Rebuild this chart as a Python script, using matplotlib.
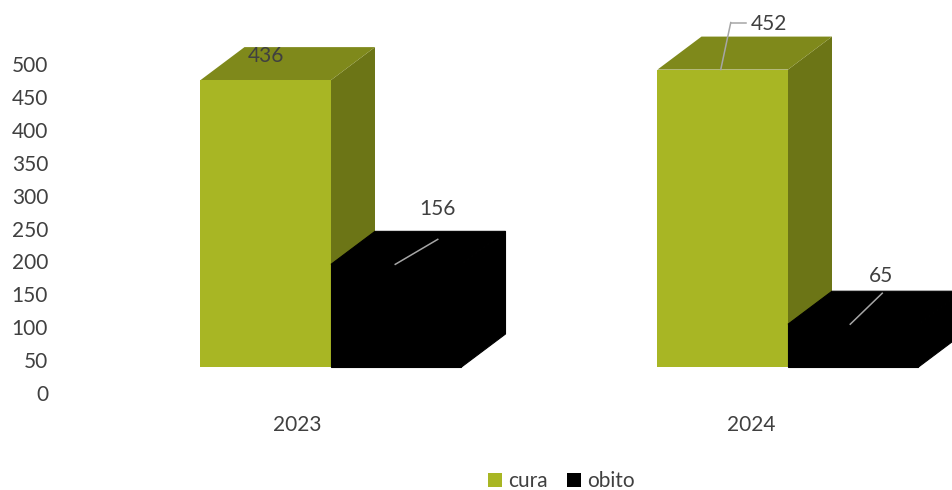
import matplotlib
matplotlib.use("Agg")
import matplotlib.pyplot as plt
from matplotlib.lines import Line2D
from matplotlib.patches import Polygon, Patch
from matplotlib.transforms import offset_copy

plt.rcParams['font.family'] = ['Lato', 'DejaVu Sans']

categories = ['2023', '2024']
series_names = ['cura', 'obito']
cura = [436, 452]
obito = [156, 65]
y_ticks = [0, 50, 100, 150, 200, 250, 300, 350, 400, 450, 500]

W, H = 953, 490
PX_PER_UNIT = 0.658
PX_PER_CAT = 457.0
ORIGIN_X = 331.0
BASE_Y = 367.0
TICK_BASE_Y = 393.0
BAR_W = 130.5 / PX_PER_CAT
DX = 44.0 / PX_PER_CAT
DY = 33.0 / PX_PER_UNIT
TEXT = '#404040'
LEADER = '#A6A6A6'
FS = 15

fig = plt.figure(figsize=(W / 100, H / 100), dpi=100)
ax = fig.add_axes([0, 0, 1, 1])
ax.set_xlim(-ORIGIN_X / PX_PER_CAT, (W - ORIGIN_X) / PX_PER_CAT)
ax.set_ylim(-(H - BASE_Y) / PX_PER_UNIT, BASE_Y / PX_PER_UNIT)
ax.axis('off')


def box(x0, v, front, top, side, z, seal):
    x1 = x0 + BAR_W
    kw = dict(ec=front, lw=0.8) if seal else dict(ec='none')
    ax.add_patch(Polygon([(x1, 0), (x1 + DX, DY), (x1 + DX, v + DY), (x1, v)],
                         fc=side, zorder=z, **kw))
    ax.add_patch(Polygon([(x0, v), (x0 + DX, v + DY), (x1 + DX, v + DY), (x1, v)],
                         fc=top, zorder=z, **kw))
    ax.add_patch(Polygon([(x0, 0), (x1, 0), (x1, v), (x0, v)],
                         fc=front, zorder=z + 0.5, **kw))


C_FRONT, C_TOP, C_SIDE = '#A8B624', '#7F891B', '#6C7516'
for i in range(len(categories)):
    box(i - BAR_W, cura[i], C_FRONT, C_TOP, C_SIDE, 2 + i * 2, False)
    box(i, obito[i], '#000000', '#000000', '#000000', 3 + i * 2, True)


def off(x, y):
    return offset_copy(ax.transData, fig=fig, x=x, y=y, units='dots')


labels = [
    (0 - BAR_W / 2, cura[0], (0, 24), []),
    (0 + BAR_W / 2, obito[0], (41.5, 55), [(-1, 0), (41.5, 25)]),
    (1 - BAR_W / 2, cura[1], (46.5, 45.5), [(-2, 0), (8, 47), (23, 47)]),
    (1 + BAR_W / 2, obito[1], (28, 48), [(-3, 0), (29, 31)]),
]
for x, v, (tx, ty), leader in labels:
    for (a, b), (c, d) in zip(leader[:-1], leader[1:]):
        ax.add_line(Line2D(
            [x + a / PX_PER_CAT, x + c / PX_PER_CAT],
            [v + b / PX_PER_UNIT, v + d / PX_PER_UNIT],
            color=LEADER, lw=1.1, zorder=20))
    ax.text(x, v, str(v), transform=off(tx, ty), ha='center', va='center',
            fontsize=FS, color=TEXT, zorder=21)

# Value axis and category labels sit in a separate plane, offset from the bars
tax = fig.add_axes([0, (H - TICK_BASE_Y) / H, 1, TICK_BASE_Y / H], facecolor='none')
tax.set_xlim(-297.0 / 454.0, (W - 297.0) / 454.0)
tax.set_ylim(0, TICK_BASE_Y / PX_PER_UNIT)
for s in tax.spines.values():
    s.set_visible(False)
tax.set_yticks(y_ticks)
tax.set_yticklabels([str(t) for t in y_ticks], fontsize=FS, color=TEXT)
tax.tick_params(axis='y', length=0, direction='in', pad=-34.6, labelleft=True)
for t in tax.get_yticklabels():
    t.set_ha('right')
tax.set_xticks(range(len(categories)))
tax.set_xticklabels(categories, fontsize=FS, color=TEXT)
tax.tick_params(axis='x', length=0, pad=15.7)
tax.patch.set_alpha(0)

handles = [Patch(fc=C_FRONT, ec='none', label=series_names[0]),
           Patch(fc='#000000', ec='none', label=series_names[1])]
leg = fig.legend(handles=handles, loc='center', bbox_to_anchor=(561.5 / W, (H - 481) / H),
                 ncol=2, frameon=False, fontsize=FS, handlelength=0.67, handleheight=0.67,
                 handletextpad=0.3, columnspacing=0.9, labelcolor=TEXT,
                 borderpad=0, borderaxespad=0)
fig.savefig('out.png', dpi=100)
